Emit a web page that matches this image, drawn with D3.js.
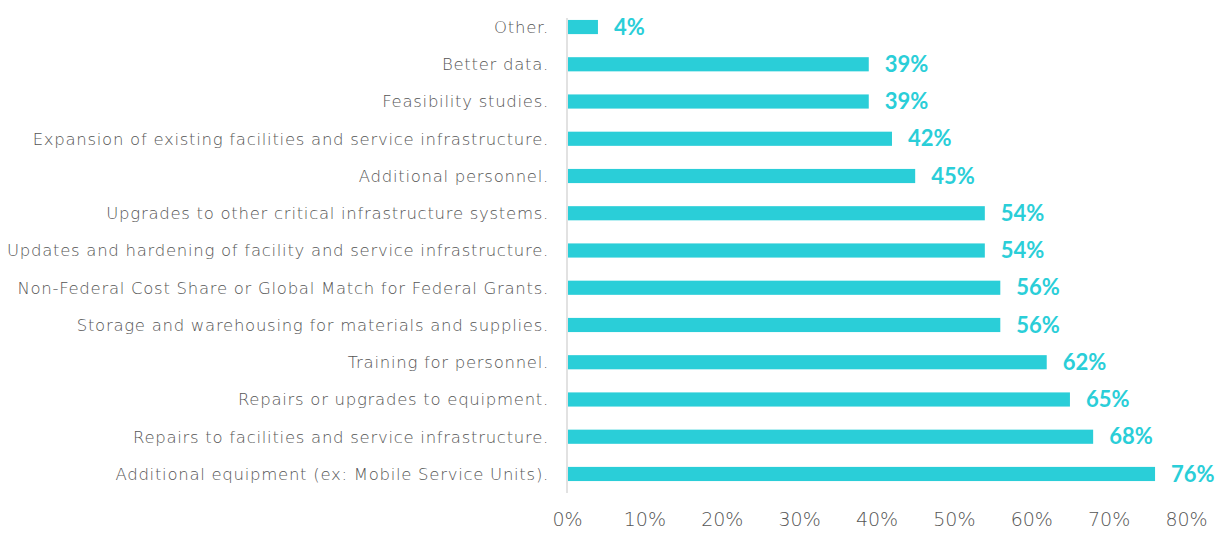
<!DOCTYPE html>
<html>
<head>
<meta charset="utf-8">
<script src="https://cdn.jsdelivr.net/npm/d3@7"></script>
<style>
  body { margin: 0; background: #fff; }
  #container { width: 1228px; height: 538px; }
  .catLabel { font-family: "DejaVu Sans", sans-serif; font-weight: 200; font-size: 16.5px; letter-spacing: 0.72px; fill: #555; }
  .xAxis text { font-family: "DejaVu Sans", sans-serif; font-weight: 200; font-size: 19px; fill: #555; }
  .valLabel { font-family: Lato, sans-serif; font-weight: 700; font-size: 22px; fill: #2ACED8; }
</style>
</head>
<body>
<div id="container"></div>
<script>
'use strict';
(function() {
    // data, top to bottom
    var categories = [
        'Other.',
        'Better data.',
        'Feasibility studies.',
        'Expansion of existing facilities and service infrastructure.',
        'Additional personnel.',
        'Upgrades to other critical infrastructure systems.',
        'Updates and hardening of facility and service infrastructure.',
        'Non-Federal Cost Share or Global Match for Federal Grants.',
        'Storage and warehousing for materials and supplies.',
        'Training for personnel.',
        'Repairs or upgrades to equipment.',
        'Repairs to facilities and service infrastructure.',
        'Additional equipment (ex: Mobile Service Units).'
    ];
    var values = [4, 39, 39, 42, 45, 54, 54, 56, 56, 62, 65, 68, 76];
    var tickValues = [0, 10, 20, 30, 40, 50, 60, 70, 80];

    var barColor = '#2ACED8';

    var svg = d3.select('#container').append('svg')
        .attr('width', 1228)
        .attr('height', 538);

    // scales
    var x = d3.scaleLinear()
        .domain([0, 80])
        .range([567, 1186]);

    var y = d3.scaleBand()
        .domain(categories)
        .range([8.4, 492.6])
        .paddingInner(0.62)
        .paddingOuter(0.31);

    // x axis labels only (no line, no ticks)
    var axisX = d3.axisBottom(x)
        .tickValues(tickValues)
        .tickSize(0)
        .tickPadding(0)
        .tickFormat(function(d) { return d + '%'; });

    var gx = svg.append('g')
        .attr('class', 'xAxis')
        .attr('transform', 'translate(0,512)')
        .call(axisX);
    gx.select('.domain').remove();

    // vertical category axis line
    svg.append('line')
        .attr('x1', x(0)).attr('x2', x(0))
        .attr('y1', 18).attr('y2', 493)
        .attr('stroke', '#d9d9d9')
        .attr('stroke-width', 1.5);

    // category labels
    svg.selectAll('.catLabel')
        .data(categories)
        .enter().append('text')
        .attr('class', 'catLabel')
        .attr('x', x(0) - 18)
        .attr('y', function(d) { return y(d) + y.bandwidth() / 2; })
        .attr('dy', '0.35em')
        .attr('text-anchor', 'end')
        .text(function(d) { return d; });

    // bars
    svg.selectAll('.bar')
        .data(values)
        .enter().append('rect')
        .attr('class', 'bar')
        .attr('x', x(0) + 1)
        .attr('y', function(d, i) { return y(categories[i]); })
        .attr('width', function(d) { return x(d) - x(0) - 1; })
        .attr('height', y.bandwidth())
        .attr('fill', barColor);

    // value labels
    svg.selectAll('.valLabel')
        .data(values)
        .enter().append('text')
        .attr('class', 'valLabel')
        .attr('x', function(d) { return x(d) + 16; })
        .attr('y', function(d, i) { return y(categories[i]) + y.bandwidth() / 2; })
        .attr('dy', '0.35em')
        .text(function(d) { return d + '%'; });
})();
</script>
</body>
</html>
